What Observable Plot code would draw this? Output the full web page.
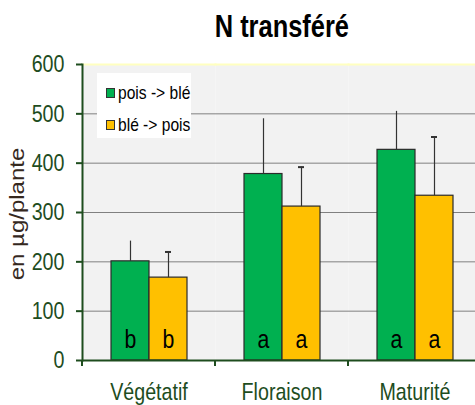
<!DOCTYPE html>
<html>
<head>
<meta charset="utf-8">
<script src="https://cdn.jsdelivr.net/npm/d3@7"></script>
<script src="https://cdn.jsdelivr.net/npm/@observablehq/plot@0.6"></script>
<style>
  html, body { margin: 0; padding: 0; background: #fff; }
  #wrap { position: relative; width: 475px; height: 405px; overflow: hidden; font-family: "Liberation Sans", Arial, sans-serif; }
  #title { position: absolute; left: 82px; width: 399px; top: 11px; text-align: center; font-size: 31px; line-height: 31px; font-weight: bold; color: #000; }
  #title span { display: inline-block; transform: scaleX(0.82); }
  #chart { position: absolute; left: 0; top: 50px; }
  #legend { position: absolute; left: 97px; top: 73px; width: 94px; height: 65px; background: #fff; }
  .row { position: absolute; left: 9px; height: 20px; display: flex; align-items: center; font-size: 19px; color: #000; white-space: nowrap; }
  .row span { display: inline-block; transform: scaleX(0.82); transform-origin: left center; }
  .sw { width: 7px; height: 8px; border: 1px solid #333; margin-right: 3px; flex: none; }
  #ylabel { position: absolute; left: 17px; top: 214px; width: 0; height: 0; }
  #ylabel span { position: absolute; left: 0; top: 0; white-space: nowrap; font-size: 24px; line-height: 24px; color: #35281e; transform: translate(-50%, -50%) rotate(-90deg) scaleY(0.82); }
</style>
</head>
<body>
<div id="wrap">
  <div id="title"><span>N transféré</span></div>
  <div id="chart"></div>
  <div id="legend"></div>
  <div id="ylabel"><span>en µg/plante</span></div>
</div>
<script>
const categories = ["Végétatif", "Floraison", "Maturité"];
const series = ["pois -> blé", "blé -> pois"];
const seriesColors = ["#00b050", "#ffc000"];
const poisBle = [201, 378, 427];
const poisBleErr = [41, 112, 78];
const poisBleLetters = ["b", "a", "a"];
const blePois = [168, 312, 334];
const blePoisErr = [52, 80, 119];
const blePoisLetters = ["b", "a", "a"];
const yTicks = [0, 100, 200, 300, 400, 500, 600];
const gridTicks = [100, 200, 300, 400, 500];

const rows = [];
categories.forEach((c, i) => {
  rows.push({cat: c, series: series[0], value: poisBle[i], err: poisBleErr[i], letter: poisBleLetters[i]});
  rows.push({cat: c, series: series[1], value: blePois[i], err: blePoisErr[i], letter: blePoisLetters[i]});
});

const green = "#1e4d1e";

const boundaryTicks = (index, scales, values, dimensions) => {
  const y0 = scales.y(0);
  const x = dimensions.marginLeft;
  const line = document.createElementNS("http://www.w3.org/2000/svg", "line");
  line.setAttribute("x1", x); line.setAttribute("x2", x);
  line.setAttribute("y1", y0); line.setAttribute("y2", y0 + 6);
  line.setAttribute("stroke", green); line.setAttribute("stroke-width", 2);
  return line;
};

const chart = Plot.plot({
  width: 475,
  height: 355,
  marginLeft: 82,
  marginRight: -6,
  marginTop: 14,
  marginBottom: 45,
  style: {fontFamily: '"Liberation Sans", Arial, sans-serif', background: "transparent"},
  fx: {domain: categories, padding: 0, label: null},
  x: {domain: series, paddingInner: 0, paddingOuter: 0.727, axis: null},
  y: {domain: [0, 600], axis: null},
  color: {domain: series, range: seriesColors},
  marks: [
    Plot.frame({fill: "#f2f2f2", stroke: null}),
    Plot.frame({anchor: "top", stroke: "#ffffc0", strokeWidth: 2}),
    Plot.gridY(gridTicks, {stroke: "#808080", strokeOpacity: 1, strokeWidth: 1}),
    Plot.barY(rows, {fx: "cat", x: "series", y: "value", fill: "series", stroke: "#2b2b2b", strokeWidth: 1.2}),
    Plot.ruleX(rows, {fx: "cat", x: "series", y1: "value", y2: d => d.value + d.err, stroke: "#333", strokeWidth: 1.2}),
    Plot.tickY(rows.filter(d => d.series === series[1]), {fx: "cat", x: "series", y: d => d.value + d.err, stroke: "#333", strokeWidth: 2, insetLeft: 16, insetRight: 16}),
    Plot.text(rows, {fx: "cat", x: "series", y: 0, text: "letter", lineAnchor: "bottom", dy: -13, fontSize: 26, fill: "#000"}),
    Plot.ruleY([0], {stroke: green, strokeWidth: 2}),
    boundaryTicks,
    Plot.frame({anchor: "left", facetAnchor: "left", stroke: green, strokeWidth: 2}),
    Plot.axisY(yTicks, {anchor: "left", tickSize: 6, tickPadding: 12, fontSize: 24, color: green, strokeWidth: 2, label: null}),
    Plot.axisFx({anchor: "bottom", tickSize: 0, tickPadding: 22, fontSize: 24, fill: green, label: null})
  ]
});

// condense SVG text horizontally (the reference uses a narrow face)
chart.querySelectorAll("text").forEach(t => {
  const x = parseFloat(t.getAttribute("x")) || 0;
  const tr = t.getAttribute("transform") || "";
  t.setAttribute("transform", `${tr} translate(${x},0) scale(0.82,1) translate(${-x},0)`);
});
document.getElementById("chart").appendChild(chart);

const legend = document.getElementById("legend");
series.forEach((s, i) => {
  const row = document.createElement("div");
  row.className = "row";
  row.style.top = (10 + i * 32) + "px";
  const sw = document.createElement("div");
  sw.className = "sw";
  sw.style.background = seriesColors[i];
  const t = document.createElement("span");
  t.textContent = s;
  row.appendChild(sw); row.appendChild(t);
  legend.appendChild(row);
});
</script>
</body>
</html>
